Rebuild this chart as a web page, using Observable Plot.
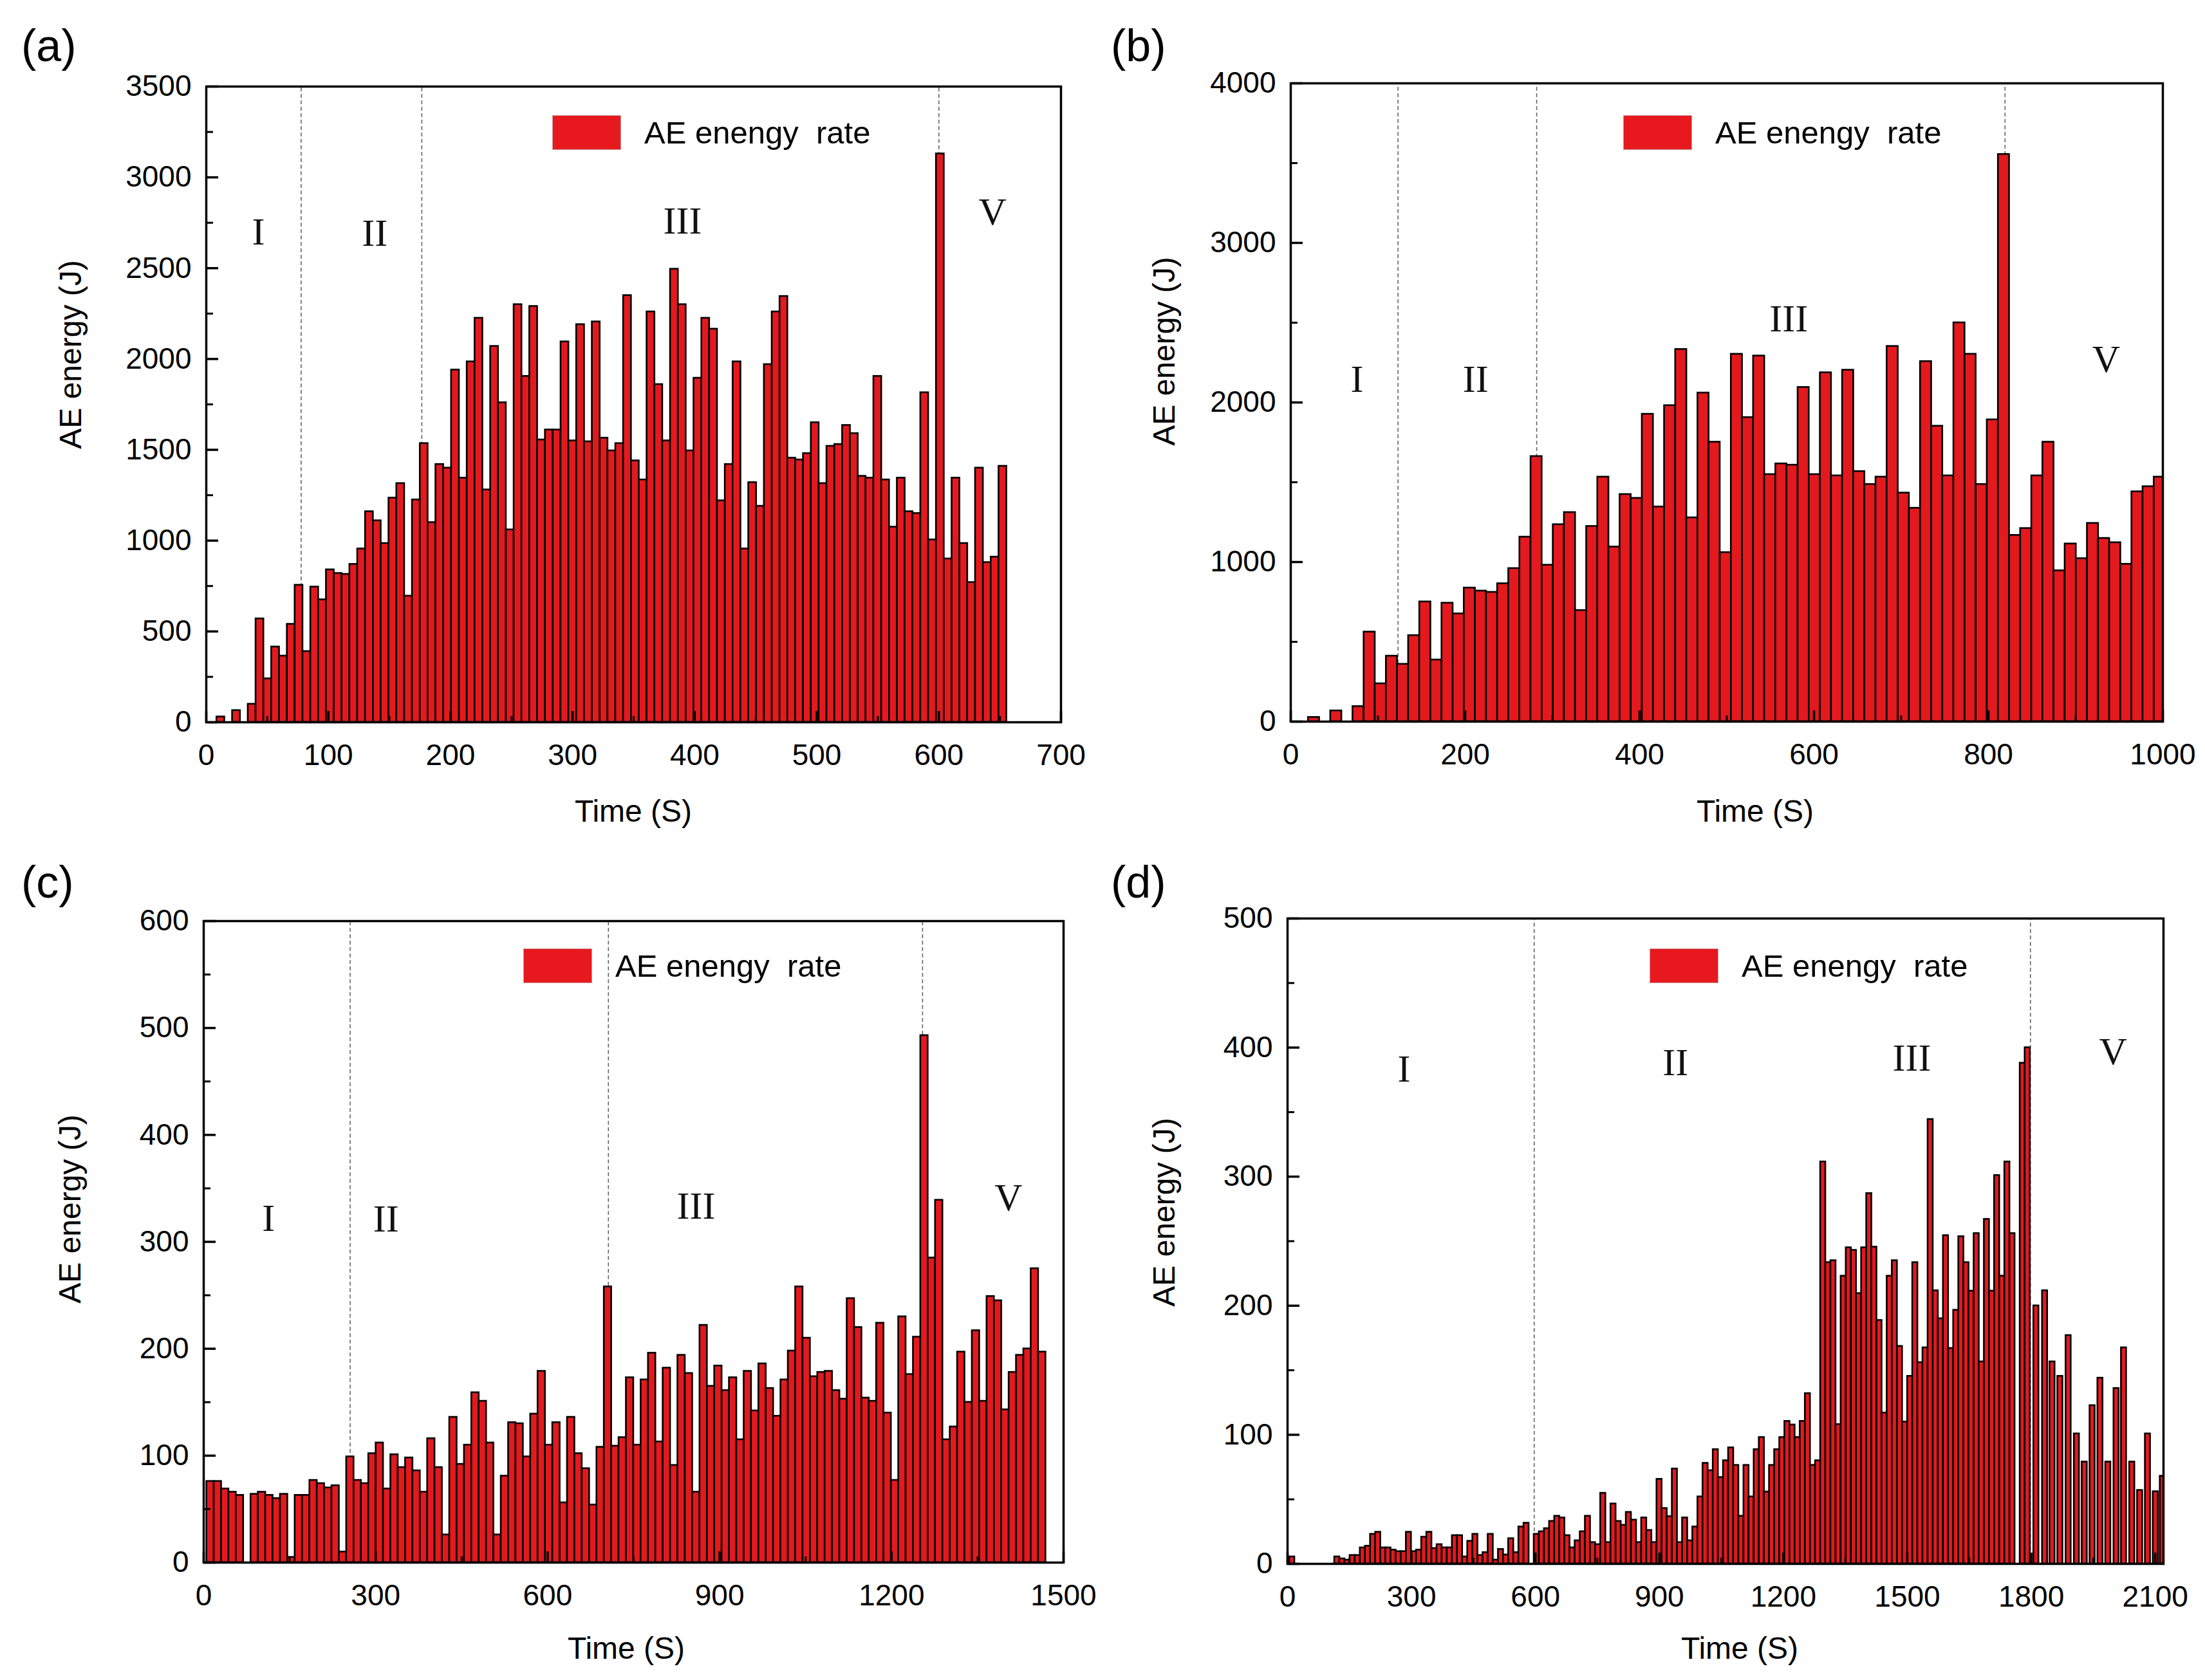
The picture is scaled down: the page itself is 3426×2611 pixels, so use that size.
<!DOCTYPE html>
<html><head><meta charset="utf-8">
<script src="https://cdn.jsdelivr.net/npm/d3@7"></script>
<script src="https://cdn.jsdelivr.net/npm/@observablehq/plot@0.6"></script>
<style>
html,body{margin:0;padding:0;background:#fff;}
#fig{position:relative;width:3426px;height:2611px;background:#fff;font-family:"Liberation Sans",Arial,sans-serif;color:#000;overflow:hidden;}
.panel{position:absolute;}
.lab{position:absolute;font-size:70px;line-height:1;}
.ytitle{position:absolute;font-size:48px;line-height:1;transform:translate(-50%,-50%) rotate(-90deg);white-space:nowrap;}
.xtitle{position:absolute;font-size:48px;line-height:1;transform:translate(-50%,-50%);white-space:nowrap;}
.leg{position:absolute;display:flex;align-items:center;font-size:49px;line-height:1;white-space:pre;}
.sw{width:105px;height:52px;background:#e8191e;margin-right:37px;box-shadow:0 0 0 1px #c8a0a0;}
</style></head><body><div id="fig"></div>
<script>
// ---------- data ----------
const legendText = "AE enengy  rate";
const stageNames = ["I", "II", "III", "V"];

// (a)
const startA = 11.8, stepA = 6.405;
const valuesA = [30, 0, 65, 0, 100,
  570, 240, 415, 365, 540, 755, 390, 745, 675, 840,
  820, 815, 870, 955, 1160, 1110, 985, 1235, 1315, 695,
  1225, 1535, 1100, 1420, 1400, 1940, 1345, 1985, 2225, 1280,
  2070, 1760, 1060, 2300, 1905, 2290, 1555, 1610, 1610, 2095,
  1550, 2190, 1545, 2205, 1565, 1495, 1535, 2350, 1440, 1335,
  2260, 1860, 1550, 2495, 2300, 1495, 1895, 2225, 2165, 1220,
  1420, 1985, 955, 1320, 1190, 1970, 2260, 2345, 1455, 1445,
  1480, 1650, 1315, 1520, 1530, 1635, 1590, 1355, 1345, 1905,
  1335, 1075, 1345, 1160, 1150, 1815, 1005, 3130, 900, 1345,
  985, 770, 1400, 880, 910, 1410];
const linesA = [77.7, 176.5, 600];
const stageXA = [42.7, 138, 390, 644];
const stageYA = [2699, 2691, 2760, 2808];
const xTicksA = [0, 100, 200, 300, 400, 500, 600, 700];
const yTicksA = [0, 500, 1000, 1500, 2000, 2500, 3000, 3500];

// (b)
const startB = 26.5, stepB = 12.76;
const valuesB = [27, 0, 68, 0, 95,
  562, 238, 411, 360, 540, 751, 387, 743, 676, 838,
  819, 811, 865, 960, 1157, 1662, 981, 1235, 1311, 697,
  1224, 1533, 1095, 1424, 1400, 1927, 1346, 1981, 2333, 1278,
  2060, 1752, 1060, 2303, 1906, 2292, 1549, 1616, 1608, 2095,
  1549, 2187, 1541, 2203, 1568, 1487, 1533, 2352, 1433, 1338,
  2257, 1852, 1541, 2500, 2303, 1487, 1892, 3555, 1168, 1211,
  1541, 1752, 946, 1114, 1022, 1243, 1149, 1122, 987, 1441,
  1473, 1533];
const linesB = [123, 282, 819];
const stageXB = [76, 212, 571, 935];
const stageYB = [2145, 2145, 2524, 2267];
const xTicksB = [0, 200, 400, 600, 800, 1000];
const yTicksB = [0, 1000, 2000, 3000, 4000];

// (c)
const startC = 11.6, stepC = 12.84;
const valuesC = [76, 76, 69, 66, 63, 0, 64, 66, 63, 60,
  64, 5, 63, 63, 77, 74, 70, 72, 10, 99,
  77, 74, 102, 112, 69, 101, 89, 98, 86, 66,
  116, 89, 26, 136, 92, 110, 159, 151, 112, 26,
  81, 131, 130, 99, 139, 179, 110, 131, 56, 136,
  102, 88, 54, 108, 258, 109, 117, 173, 110, 171,
  196, 113, 182, 91, 194, 177, 66, 222, 165, 184,
  161, 173, 115, 179, 142, 186, 163, 137, 171, 198,
  258, 210, 174, 178, 179, 161, 153, 247, 220, 154,
  151, 224, 140, 77, 230, 176, 211, 493, 285, 339,
  115, 127, 197, 150, 217, 151, 249, 245, 143, 178,
  194, 200, 275, 197];
const linesC = [255.5, 706, 1254];
const stageXC = [113, 318, 859, 1404];
const stageYC = [322, 321, 333, 341];
const xTicksC = [0, 300, 600, 900, 1200, 1500];
const yTicksC = [0, 100, 200, 300, 400, 500, 600];

// (d)
const firstTimeD = [11];
const firstValueD = [5.5];
const startD = 120, stepD = 12.38;
const valuesD = [5.5, 4, 3, 6.6, 6.6, 12.5, 13.8, 23, 24.6, 12.5,
  12.5, 10.8, 9.6, 9.6, 24.6, 9.6, 10.8, 20.8, 24.6, 12,
  15, 12.5, 12.5, 22, 22, 5.5, 17.6, 23, 6.6, 8.8,
  23, 3, 11.3, 7, 19.6, 8.8, 28.7, 31.6, 0, 23,
  25, 27.4, 33, 37, 35.7, 22, 12.5, 18, 25, 37,
  16.6, 15, 54.8, 16.6, 46.5, 33, 30, 40, 34, 16.6,
  35.7, 26, 16.6, 65.6, 43, 36.7, 73.6, 16.6, 35.7, 18,
  28.7, 52, 78, 72.3, 88.6, 67, 80, 90, 76.4, 37,
  76.4, 52, 88.6, 98, 55.8, 76.4, 88.6, 98, 110.5, 107.7,
  98, 110.5, 132, 76.4, 80,
  311.5, 233.5, 235, 108, 223, 245, 243, 209.5, 245, 287,
  245.5, 188.7, 117, 223, 235, 168.6, 110, 145.4, 233.5, 156,
  167.5, 344.4, 211.7, 190, 254.4, 167, 196.6, 253.6, 233.5, 211.4,
  256, 156.6, 267, 211.4, 301, 223, 311.5, 256];
const tailTimesD = [1779, 1791, 1812, 1833, 1851, 1870, 1890, 1910, 1929, 1948,
  1967, 1986, 2006, 2024, 2044, 2063, 2082, 2101, 2118];
const tailValuesD = [388, 400, 200, 211.7, 156.6, 145.4, 177, 100.8, 79, 122.7,
  144, 79, 136, 167.5, 79, 57, 100.8, 56, 68];
const linesD = [597, 1798];
const stageXD = [282, 939, 1511, 1998];
const stageYD = [383, 388, 391.5, 396.6];
const xTicksD = [0, 300, 600, 900, 1200, 1500, 1800, 2100];
const yTicksD = [0, 100, 200, 300, 400, 500];

// ---------- build ----------
const fig = document.getElementById("fig");
const mid = a => d3.pairs(a).map(([p, q]) => (p + q) / 2);

function rows(times, values) { return times.map((t, i) => ({t, v: values[i]})); }
const timesFrom = (start, step, n) => Array.from({length: n}, (_, i) => start + i * step);

const panels = [
  {id: "a", left: 0, top: 0, w: 1713, h: 1300, ml: 320, mr: 65, mt: 134, mb: 178,
   rows: rows(timesFrom(startA, stepA, valuesA.length), valuesA), bw: stepA,
   xd: [0, 700], yd: [0, 3500], lines: linesA, sx: stageXA, sy: stageYA, xt: xTicksA, yt: yTicksA,
   lab: [33, 36], yt_: [110, 551], xt_: [984, 1261], leg: [859, 180]},
  {id: "b", left: 1713, top: 0, w: 1713, h: 1300, ml: 292, mr: 66, mt: 129, mb: 179,
   rows: rows(timesFrom(startB, stepB, valuesB.length), valuesB), bw: stepB,
   xd: [0, 1000], yd: [0, 4000], lines: linesB, sx: stageXB, sy: stageYB, xt: xTicksB, yt: yTicksB,
   lab: [1726, 36], yt_: [1809, 546], xt_: [2727, 1261], leg: [2523, 180]},
  {id: "c", left: 0, top: 1300, w: 1713, h: 1311, ml: 316, mr: 61, mt: 131, mb: 183,
   rows: rows(timesFrom(startC, stepC, valuesC.length), valuesC), bw: stepC,
   xd: [0, 1500], yd: [0, 600], lines: linesC, sx: stageXC, sy: stageYC, xt: xTicksC, yt: yTicksC,
   lab: [33, 1336], yt_: [109, 1879], xt_: [973, 2562], leg: [814, 1475]},
  {id: "d", left: 1713, top: 1300, w: 1713, h: 1311, ml: 287, mr: 65, mt: 127, mb: 181,
   rows: rows(firstTimeD, firstValueD)
     .concat(rows(timesFrom(startD, stepD, valuesD.length), valuesD))
     .concat(rows(tailTimesD, tailValuesD)), bw: stepD,
   xd: [0, 2120], yd: [0, 500], lines: linesD, sx: stageXD, sy: stageYD, xt: xTicksD, yt: yTicksD,
   lab: [1726, 1336], yt_: [1809, 1884], xt_: [2703, 2562], leg: [2564, 1475]}
];

for (const p of panels) {
  const chart = Plot.plot({
    width: p.w, height: p.h,
    marginLeft: p.ml, marginRight: p.mr, marginTop: p.mt, marginBottom: p.mb,
    x: {domain: p.xd, label: null},
    y: {domain: p.yd, label: null},
    style: {fontFamily: "'Liberation Sans', Arial, sans-serif", fontSize: "46px", color: "#000", background: "transparent"},
    marks: [
      Plot.ruleX(p.lines, {x: d => d, y1: p.yd[0], y2: p.yd[1], stroke: "#666", strokeWidth: 1.6, strokeDasharray: "6,4"}),
      Plot.rect(p.rows, {x1: d => d.t - p.bw / 2, x2: d => d.t + p.bw / 2, y1: 0, y2: "v",
        fill: "#e3191e", stroke: "#000", strokeWidth: 2.6, clip: true}),
      Plot.text(stageNames, {x: (d, i) => p.sx[i], y: (d, i) => p.sy[i], text: d => d,
        fontFamily: "'Liberation Serif', 'Times New Roman', serif", fontSize: 60, fill: "#111", lineAnchor: "middle"}),
      Plot.axisY({ticks: p.yt, tickSize: 0, tickPadding: 23, tickFormat: d3.format("d"), fontSize: 46, label: null}),
      Plot.axisY({ticks: p.yt, anchor: "right", frameAnchor: "left", text: null, tickSize: 18, strokeWidth: 3.5, label: null}),
      Plot.axisY({ticks: mid(p.yt), anchor: "right", frameAnchor: "left", text: null, tickSize: 10, strokeWidth: 3, label: null}),
      Plot.axisX({ticks: p.xt, tickSize: 0, tickPadding: 34, tickFormat: d3.format("d"), fontSize: 46, label: null}),
      Plot.axisX({ticks: p.xt, anchor: "top", frameAnchor: "bottom", text: null, tickSize: 18, strokeWidth: 3.5, label: null}),
      Plot.axisX({ticks: mid(p.xt), anchor: "top", frameAnchor: "bottom", text: null, tickSize: 10, strokeWidth: 3, label: null}),
      Plot.frame({stroke: "#000", strokeWidth: 3.5})
    ]
  });
  const box = document.createElement("div");
  box.className = "panel";
  box.style.left = p.left + "px";
  box.style.top = p.top + "px";
  box.appendChild(chart);
  fig.appendChild(box);

  const lab = document.createElement("div");
  lab.className = "lab";
  lab.textContent = "(" + p.id + ")";
  lab.style.left = p.lab[0] + "px"; lab.style.top = p.lab[1] + "px";
  fig.appendChild(lab);

  const yt = document.createElement("div");
  yt.className = "ytitle"; yt.textContent = "AE energy (J)";
  yt.style.left = p.yt_[0] + "px"; yt.style.top = p.yt_[1] + "px";
  fig.appendChild(yt);

  const xt = document.createElement("div");
  xt.className = "xtitle"; xt.textContent = "Time (S)";
  xt.style.left = p.xt_[0] + "px"; xt.style.top = p.xt_[1] + "px";
  fig.appendChild(xt);

  const leg = document.createElement("div");
  leg.className = "leg";
  leg.style.left = p.leg[0] + "px"; leg.style.top = p.leg[1] + "px";
  const sw = document.createElement("span"); sw.className = "sw";
  const tx = document.createElement("span"); tx.textContent = legendText;
  leg.appendChild(sw); leg.appendChild(tx);
  fig.appendChild(leg);
}
</script></body></html>
